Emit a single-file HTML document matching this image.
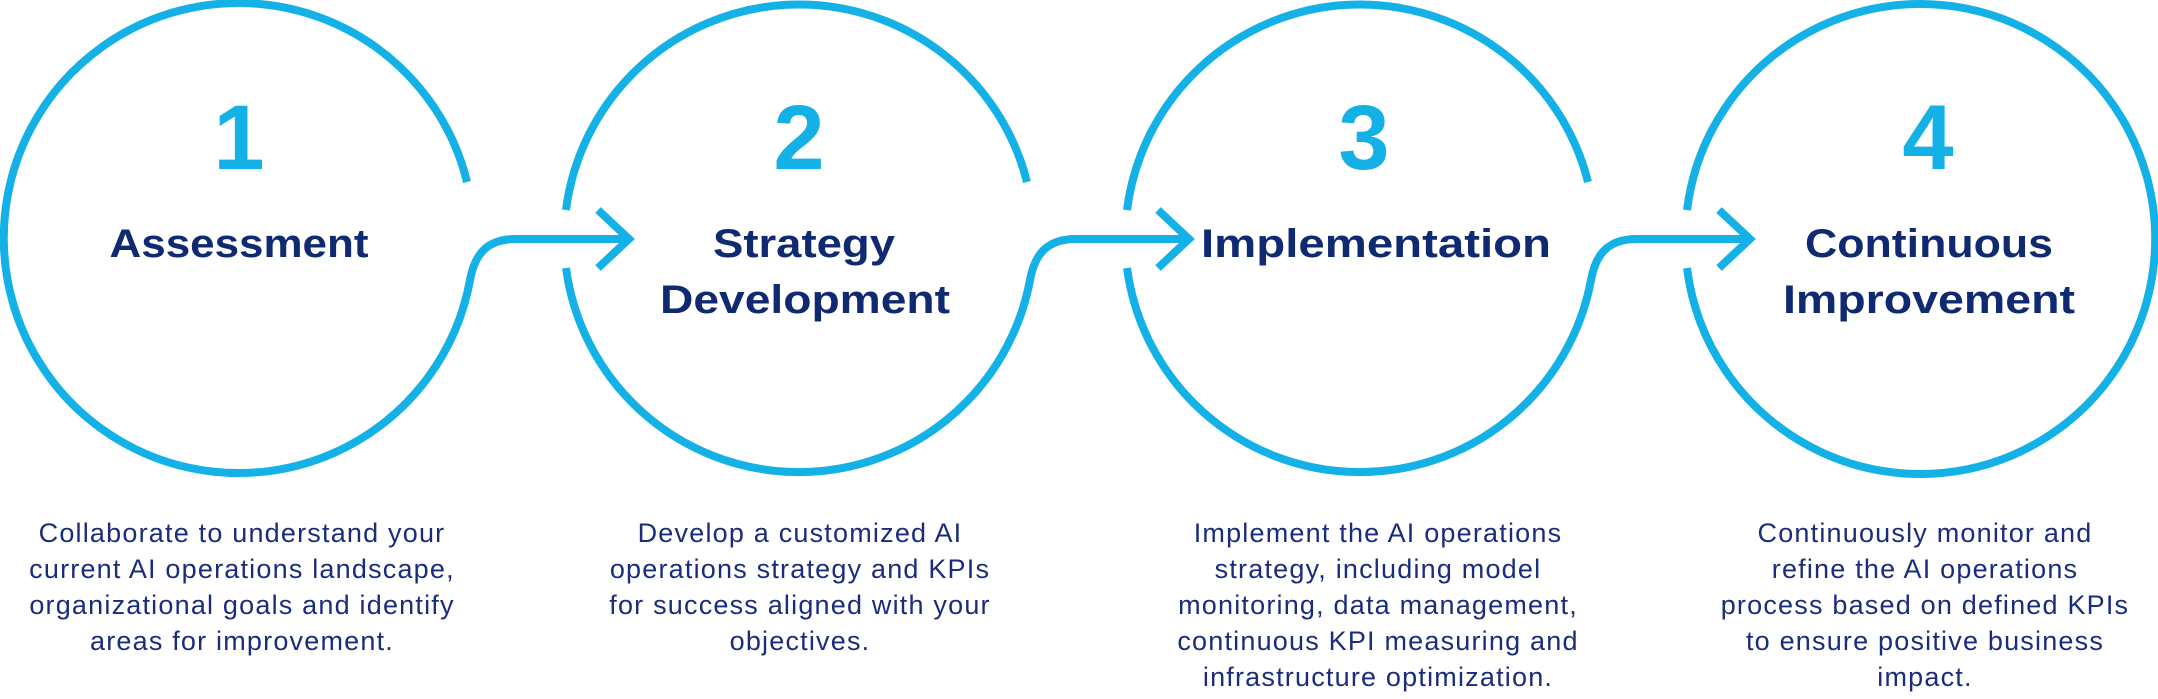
<!DOCTYPE html>
<html><head><meta charset="utf-8"><style>
html,body{margin:0;padding:0;background:#fff;width:2158px;height:699px;overflow:hidden}
svg{display:block}
.n{font-family:"Liberation Sans",sans-serif;font-weight:bold;font-size:92px;fill:#14b1e7;text-anchor:middle}
.t{font-family:"Liberation Sans",sans-serif;font-weight:bold;font-size:40px;fill:#0f2a70;text-anchor:middle}
.d{font-family:"Liberation Sans",sans-serif;font-size:27px;letter-spacing:1.2px;fill:#1a2c7c;text-anchor:middle}
</style></head><body>
<svg width="2158" height="699" viewBox="0 0 2158 699" xmlns="http://www.w3.org/2000/svg">
<g fill="none" stroke="#14b1e7" stroke-width="8" stroke-linejoin="miter">
 <path d="M467,182 A235,235 0 1 0 470,280 C475,252 489,239 516,239 L631,239"/>
 <path d="M598,210 L629,239 L598,268"/>
 <path d="M1027,182 A235,235 0 0 0 566,210"/>
 <path d="M566,268 A235,235 0 0 0 1030,280 C1035,252 1049,239 1076,239 L1191,239"/>
 <path d="M1158,210 L1189,239 L1158,268"/>
 <path d="M1588,182 A235,235 0 0 0 1127,210"/>
 <path d="M1127,268 A235,235 0 0 0 1591,280 C1596,252 1610,239 1637,239 L1752,239"/>
 <path d="M1719,210 L1750,239 L1719,268"/>
 <path d="M1687,268 A235,235 0 1 0 1687,210"/>
</g>
<text class="n" x="239" y="169">1</text>
<text class="n" x="799" y="169">2</text>
<text class="n" x="1364" y="169">3</text>
<text class="n" x="1928" y="169">4</text>
<text class="t" x="239" y="257" textLength="259" lengthAdjust="spacingAndGlyphs">Assessment</text>
<text class="t" x="804" y="257" textLength="182" lengthAdjust="spacingAndGlyphs">Strategy</text>
<text class="t" x="805" y="313" textLength="290" lengthAdjust="spacingAndGlyphs">Development</text>
<text class="t" x="1376" y="257" textLength="350" lengthAdjust="spacingAndGlyphs">Implementation</text>
<text class="t" x="1929" y="257" textLength="248" lengthAdjust="spacingAndGlyphs">Continuous</text>
<text class="t" x="1929" y="313" textLength="292" lengthAdjust="spacingAndGlyphs">Improvement</text>
<text class="d" x="242" y="542">Collaborate to understand your</text>
<text class="d" x="242" y="578">current AI operations landscape,</text>
<text class="d" x="242" y="614">organizational goals and identify</text>
<text class="d" x="242" y="650">areas for improvement.</text>
<text class="d" x="800" y="542">Develop a customized AI</text>
<text class="d" x="800" y="578">operations strategy and KPIs</text>
<text class="d" x="800" y="614">for success aligned with your</text>
<text class="d" x="800" y="650">objectives.</text>
<text class="d" x="1378" y="542">Implement the AI operations</text>
<text class="d" x="1378" y="578">strategy, including model</text>
<text class="d" x="1378" y="614">monitoring, data management,</text>
<text class="d" x="1378" y="650">continuous KPI measuring and</text>
<text class="d" x="1378" y="686">infrastructure optimization.</text>
<text class="d" x="1925" y="542">Continuously monitor and</text>
<text class="d" x="1925" y="578">refine the AI operations</text>
<text class="d" x="1925" y="614">process based on defined KPIs</text>
<text class="d" x="1925" y="650">to ensure positive business</text>
<text class="d" x="1925" y="686">impact.</text>
</svg>
</body></html>
